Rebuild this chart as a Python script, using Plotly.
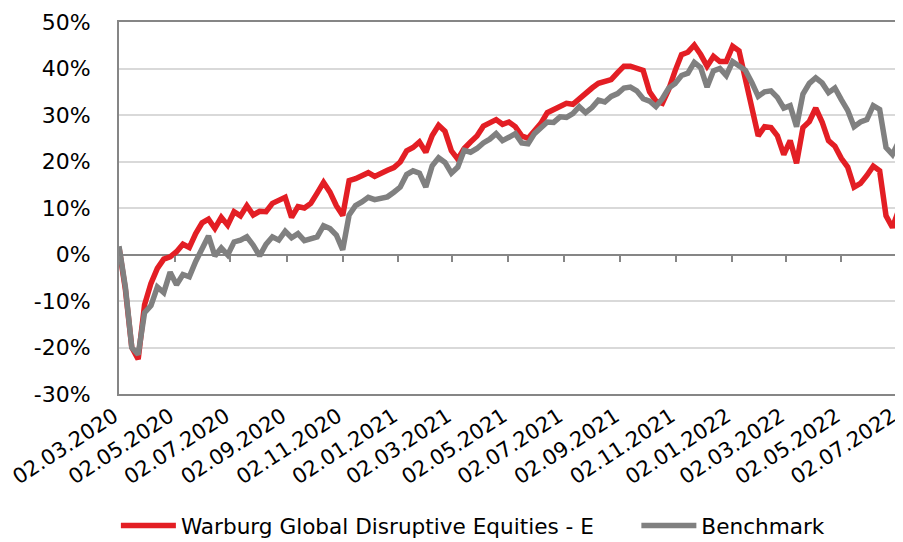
import pandas as pd
import plotly.graph_objects as go

# Weekly observation dates (x categories)
start_date = "2020-03-02"
n_weeks = 123
dates = pd.date_range(start_date, periods=n_weeks, freq="7D")

fund_name = "Warburg Global Disruptive Equities - E"
bench_name = "Benchmark"

# Cumulative performance in %
fund_values = [
    1.5, -7.5, -20, -22.5, -10.8, -6.2, -3, -1, -0.5, 0.6,
    2.2, 1.5, 4.5, 6.8, 7.6, 5.6, 8, 6.3, 9.2, 8.3,
    10.5, 8.5, 9.3, 9.2, 11, 11.6, 12.3, 8, 10.3, 10,
    11, 13.2, 15.5, 13.4, 10.5, 8.4, 15.9, 16.3, 17, 17.6,
    16.8, 17.3, 18.1, 18.7, 19.9, 22.3, 23, 24.2, 22, 25.6,
    27.8, 26.5, 22.3, 20.5, 22.8, 24.2, 25.5, 27.6, 28.2, 29,
    28, 28.5, 27.5, 25.5, 25, 26.8, 28.2, 30.5, 31.2, 31.8,
    32.5, 32.3, 33.6, 34.5, 35.8, 36.8, 37.3, 37.6, 39.1, 40.5,
    40.5, 40.2, 39.6, 35, 33, 32.5, 35.5, 39.5, 43, 43.5,
    45, 43, 40.5, 42.6, 41.5, 41.5, 44.8, 43.8, 37.5, 31.5,
    25.5, 27.5, 27.3, 25.5, 21.5, 24.5, 19.6, 27.3, 28.6, 31.5,
    28.5, 24.5, 23.3, 20.7, 18.8, 14.5, 15.3, 17, 19, 18,
    8.3, 5.8, 9.6,
]

bench_values = [
    1.8, -7, -20, -21.5, -12.5, -11, -7, -8.2, -3.8, -6.5,
    -4.3, -4.8, -1.5, 1.2, 4, -0.3, 1.4, -0.1, 2.7, 3.1,
    3.8, 2, -0.3, 2.2, 3.8, 3.1, 5, 3.6, 4.5, 3,
    3.5, 3.8, 6.2, 5.6, 4.2, 1, 8.5, 10.5, 11.3, 12.3,
    11.8, 12, 12.4, 13.4, 14.5, 17.2, 18, 17.5, 14.5, 19.1,
    20.8, 19.8, 17.5, 18.8, 22.4, 22, 22.8, 24, 24.8, 26,
    24.5, 25.2, 26, 24, 23.8, 26, 27.3, 28.5, 28.4, 29.6,
    29.5, 30.3, 31.8, 30.5, 31.6, 33.2, 32.8, 34, 34.6, 35.8,
    36, 35.2, 33.5, 33, 31.8, 33.5, 35.8, 36.8, 38.5, 39,
    41.3, 40.2, 36, 39.5, 40, 38.5, 41.5, 40.5, 39.6, 37,
    34, 35, 35.2, 33.8, 31.5, 32, 27.5, 34.5, 36.8, 38,
    36.9, 34.8, 35.8, 33.3, 31, 27.5, 28.5, 29, 32, 31.2,
    23, 21.5, 24.3,
]

tick_dates = [
    "2020-03-02", "2020-05-02", "2020-07-02", "2020-09-02", "2020-11-02",
    "2021-01-02", "2021-03-02", "2021-05-02", "2021-07-02", "2021-09-02",
    "2021-11-02", "2022-01-02", "2022-03-02", "2022-05-02", "2022-07-02",
]
tick_labels = [pd.Timestamp(d).strftime("%d.%m.%Y") for d in tick_dates]

y_ticks = [-30, -20, -10, 0, 10, 20, 30, 40, 50]
y_labels = [f"{v}%" for v in y_ticks]

RED = "#e31e24"
GRAY = "#808080"
AXIS = "#868686"
GRID = "#d9d9d9"
FONT = "DejaVu Sans"

x_range = [tick_dates[0], tick_dates[-1]]

fig = go.Figure()
fig.add_trace(go.Scatter(
    x=dates, y=fund_values, name=fund_name, mode="lines",
    line=dict(color=RED, width=5.5), legend="legend",
))
fig.add_trace(go.Scatter(
    x=dates, y=bench_values, name=bench_name, mode="lines",
    line=dict(color=GRAY, width=5.5), legend="legend2",
))
# invisible helper trace for the tick marks on the zero line
fig.add_trace(go.Scatter(x=[], y=[], xaxis="x2", showlegend=False, hoverinfo="skip"))

legend_common = dict(
    orientation="h", xanchor="left", y=-0.355, yanchor="middle",
    font=dict(family=FONT, size=21.6, color="black"),
    itemwidth=55, bgcolor="rgba(0,0,0,0)",
)

# the page body adds an 8px offset, so the figure is 8px smaller
fig.update_layout(
    template="none",
    width=895, height=534,
    margin=dict(l=111, r=6, t=14, b=148, autoexpand=False),
    paper_bgcolor="white", plot_bgcolor="white",
    font=dict(family=FONT, size=20, color="black"),
    xaxis=dict(
        type="date", range=x_range, automargin=False,
        tickvals=tick_dates, ticktext=tick_labels, tickangle=-33,
        ticks="", showgrid=False, zeroline=False,
        showline=True, linecolor=AXIS, linewidth=2, mirror=True,
        ticklabeloverflow="allow", ticklabelshift=-5,
        tickfont=dict(family=FONT, size=21, color="black"),
    ),
    xaxis2=dict(
        type="date", range=x_range, overlaying="x", anchor="free",
        position=0.375, side="bottom", automargin=False,
        tickvals=tick_dates, ticks="outside", ticklen=6, tickwidth=2,
        tickcolor=AXIS, showticklabels=False, showgrid=False,
        showline=False, zeroline=False,
    ),
    yaxis=dict(
        range=[-30, 50], tickvals=y_ticks, ticktext=y_labels, automargin=False,
        showgrid=True, gridcolor=GRID, gridwidth=2,
        zeroline=True, zerolinecolor=AXIS, zerolinewidth=2,
        showline=True, linecolor=AXIS, linewidth=2, mirror=True,
        ticks="", ticklabelstandoff=22,
        tickfont=dict(family=FONT, size=22, color="black"),
    ),
    legend=dict(x=-0.004, **legend_common),
    legend2=dict(x=0.665, **legend_common),
    showlegend=True,
)

fig.write_html("out.html")
